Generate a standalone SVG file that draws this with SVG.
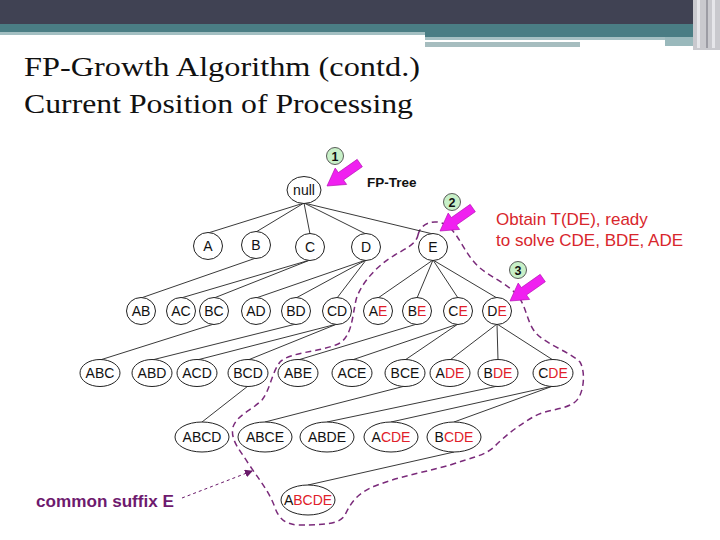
<svg xmlns="http://www.w3.org/2000/svg" width="720" height="540" viewBox="0 0 720 540">
<style>
.n ellipse{fill:#fff;stroke:#222;stroke-width:1}
.n text{font-family:"Liberation Sans",Arial,sans-serif;font-size:14px;fill:#111;text-anchor:middle}
.r{fill:#e0202a}
.e line{stroke:#222;stroke-width:0.9}
.t{font-family:"Liberation Serif","Times New Roman",serif;font-size:28px;fill:#111}
.ar{fill:#f020f0;stroke:#b010b0;stroke-width:0.6}
.bd circle{fill:#c8f0c8;stroke:#333;stroke-width:0.8}
.bd text{font-family:"Liberation Sans",Arial,sans-serif;font-size:12.5px;font-weight:bold;fill:#111;text-anchor:middle}
</style>
<defs>
<polygon id="arr" points="0,0 -17,-10 -17,-4.5 -40,-4.5 -40,4.5 -17,4.5 -17,10"/>
<marker id="pm" markerWidth="8" markerHeight="8" refX="7" refY="4" orient="auto" markerUnits="userSpaceOnUse"><path d="M0,0 L8,4 L0,8 z" fill="#6a1a6a"/></marker>
</defs>
<rect width="720" height="540" fill="#fff"/>
<g id="header">
<rect x="0" y="0" width="720" height="24" fill="#404253"/>
<rect x="0" y="24" width="720" height="8" fill="#4a7d84"/>
<rect x="0" y="32" width="425" height="3" fill="#a3bfc2"/>
<rect x="425" y="32" width="295" height="5" fill="#4a7d84"/>
<rect x="425" y="37" width="240" height="3" fill="#a6c0c3"/>
<rect x="425" y="42" width="155" height="5" fill="#a6bdbf"/>
<rect x="665" y="37" width="30" height="9" fill="#9ab9bc"/>
<rect x="693" y="0" width="27" height="50" fill="#c9c9ce"/>
<rect x="697" y="0" width="3" height="48" fill="#e6e6ea"/>
<rect x="706" y="0" width="2" height="48" fill="#9c9ca4"/>
<rect x="712" y="0" width="3" height="48" fill="#e6e6ea"/>
</g>
<g id="title">
<text class="t" x="24" y="76" textLength="396" lengthAdjust="spacingAndGlyphs">FP-Growth Algorithm (contd.)</text>
<text class="t" x="24" y="113" textLength="389" lengthAdjust="spacingAndGlyphs">Current Position of Processing</text>
</g>
<path id="boundary" d="M418,235 C421,222 436,218 448,226 C460,236 465,255 480,268 C492,278 508,284 518,296 C526,306 527,322 535,332 C545,344 570,352 580,362 C586,372 584,395 575,402 C565,410 548,409 535,416 C520,424 505,436 495,446 C485,456 470,458 450,465 C430,471 400,476 375,486 C355,494 350,505 345,515 C340,524 325,525 300,525 C285,525 278,518 274,505 C268,490 258,478 248,463 C240,450 230,440 233,427 C237,415 252,410 262,400 C270,390 272,372 280,362 C290,352 320,352 338,344 C352,337 352,318 356,300 C360,285 375,268 390,258 C404,249 416,245 418,235 Z" fill="none" stroke="#7a2a7a" stroke-width="1.5" stroke-dasharray="6,4"/>
<g id="connectors" class="e">
<line x1="304" y1="203" x2="208" y2="233"/>
<line x1="304" y1="203" x2="256" y2="232"/>
<line x1="304" y1="203" x2="310" y2="234"/>
<line x1="304" y1="203" x2="366" y2="234"/>
<line x1="304" y1="203" x2="433" y2="234"/>
<line x1="256" y1="258" x2="141" y2="298"/>
<line x1="310" y1="260" x2="181" y2="298"/>
<line x1="310" y1="260" x2="214" y2="298"/>
<line x1="366" y1="260" x2="256" y2="298"/>
<line x1="366" y1="260" x2="296" y2="298"/>
<line x1="366" y1="260" x2="337" y2="298"/>
<line x1="433" y1="260" x2="378" y2="298"/>
<line x1="433" y1="260" x2="417" y2="298"/>
<line x1="433" y1="260" x2="458" y2="298"/>
<line x1="433" y1="260" x2="497" y2="298"/>
<line x1="214" y1="324" x2="100" y2="360"/>
<line x1="296" y1="324" x2="152" y2="360"/>
<line x1="337" y1="324" x2="197" y2="360"/>
<line x1="337" y1="324" x2="248" y2="360"/>
<line x1="417" y1="324" x2="298" y2="360"/>
<line x1="458" y1="324" x2="352" y2="360"/>
<line x1="458" y1="324" x2="405" y2="360"/>
<line x1="497" y1="324" x2="450" y2="360"/>
<line x1="497" y1="324" x2="498" y2="360"/>
<line x1="497" y1="324" x2="553" y2="360"/>
<line x1="248" y1="386" x2="202" y2="422"/>
<line x1="405" y1="386" x2="265" y2="422"/>
<line x1="498" y1="386" x2="327" y2="422"/>
<line x1="553" y1="386" x2="391" y2="422"/>
<line x1="553" y1="386" x2="454" y2="422"/>
<line x1="454" y1="452" x2="308" y2="485"/>
</g>
<g id="n-null" class="n"><ellipse cx="304" cy="190" rx="17" ry="13.5"/><text x="304" y="195">null</text></g>
<g id="n-A" class="n"><ellipse cx="208" cy="246" rx="14.5" ry="13.5"/><text x="208" y="251">A</text></g>
<g id="n-B" class="n"><ellipse cx="256" cy="245" rx="14.5" ry="13.5"/><text x="256" y="250">B</text></g>
<g id="n-C" class="n"><ellipse cx="310" cy="247" rx="14.5" ry="13.5"/><text x="310" y="252">C</text></g>
<g id="n-D" class="n"><ellipse cx="366" cy="247" rx="14.5" ry="13.5"/><text x="366" y="252">D</text></g>
<g id="n-E" class="n"><ellipse cx="433" cy="247" rx="14.5" ry="13.5"/><text x="433" y="252">E</text></g>
<g id="n-AB" class="n"><ellipse cx="141" cy="311" rx="14.5" ry="13.5"/><text x="141" y="316">AB</text></g>
<g id="n-AC" class="n"><ellipse cx="181" cy="311" rx="14.5" ry="13.5"/><text x="181" y="316">AC</text></g>
<g id="n-BC" class="n"><ellipse cx="214" cy="311" rx="14.5" ry="13.5"/><text x="214" y="316">BC</text></g>
<g id="n-AD" class="n"><ellipse cx="256" cy="311" rx="14.5" ry="13.5"/><text x="256" y="316">AD</text></g>
<g id="n-BD" class="n"><ellipse cx="296" cy="311" rx="14.5" ry="13.5"/><text x="296" y="316">BD</text></g>
<g id="n-CD" class="n"><ellipse cx="337" cy="311" rx="14.5" ry="13.5"/><text x="337" y="316">CD</text></g>
<g id="n-AE" class="n"><ellipse cx="378" cy="311" rx="14.5" ry="13.5"/><text x="378" y="316">A<tspan class="r">E</tspan></text></g>
<g id="n-BE" class="n"><ellipse cx="417" cy="311" rx="14.5" ry="13.5"/><text x="417" y="316">B<tspan class="r">E</tspan></text></g>
<g id="n-CE" class="n"><ellipse cx="458" cy="311" rx="14.5" ry="13.5"/><text x="458" y="316">C<tspan class="r">E</tspan></text></g>
<g id="n-DE" class="n"><ellipse cx="497" cy="311" rx="14.5" ry="13.5"/><text x="497" y="316">D<tspan class="r">E</tspan></text></g>
<g id="n-ABC" class="n"><ellipse cx="100" cy="373" rx="20" ry="13.5"/><text x="100" y="378">ABC</text></g>
<g id="n-ABD" class="n"><ellipse cx="152" cy="373" rx="20" ry="13.5"/><text x="152" y="378">ABD</text></g>
<g id="n-ACD" class="n"><ellipse cx="197" cy="373" rx="20" ry="13.5"/><text x="197" y="378">ACD</text></g>
<g id="n-BCD" class="n"><ellipse cx="248" cy="373" rx="20" ry="13.5"/><text x="248" y="378">BCD</text></g>
<g id="n-ABE" class="n"><ellipse cx="298" cy="373" rx="20" ry="13.5"/><text x="298" y="378">ABE</text></g>
<g id="n-ACE" class="n"><ellipse cx="352" cy="373" rx="20" ry="13.5"/><text x="352" y="378">ACE</text></g>
<g id="n-BCE" class="n"><ellipse cx="405" cy="373" rx="20" ry="13.5"/><text x="405" y="378">BCE</text></g>
<g id="n-ADE" class="n"><ellipse cx="450" cy="373" rx="20" ry="13.5"/><text x="450" y="378">A<tspan class="r">DE</tspan></text></g>
<g id="n-BDE" class="n"><ellipse cx="498" cy="373" rx="20" ry="13.5"/><text x="498" y="378">B<tspan class="r">DE</tspan></text></g>
<g id="n-CDE" class="n"><ellipse cx="553" cy="373" rx="20" ry="13.5"/><text x="553" y="378">C<tspan class="r">DE</tspan></text></g>
<g id="n-ABCD" class="n"><ellipse cx="202" cy="437" rx="27" ry="15"/><text x="202" y="442">ABCD</text></g>
<g id="n-ABCE" class="n"><ellipse cx="265" cy="437" rx="27" ry="15"/><text x="265" y="442">ABCE</text></g>
<g id="n-ABDE" class="n"><ellipse cx="327" cy="437" rx="27" ry="15"/><text x="327" y="442">ABDE</text></g>
<g id="n-ACDE" class="n"><ellipse cx="391" cy="437" rx="27" ry="15"/><text x="391" y="442">A<tspan class="r">CDE</tspan></text></g>
<g id="n-BCDE" class="n"><ellipse cx="454" cy="437" rx="27" ry="15"/><text x="454" y="442">B<tspan class="r">CDE</tspan></text></g>
<g id="n-ABCDE" class="n"><ellipse cx="308" cy="500" rx="27" ry="15"/><text x="308" y="505">A<tspan class="r">BCDE</tspan></text></g>
<g id="label-fptree"><text x="367" y="187" font-family="Liberation Sans,Arial,sans-serif" font-size="13.5" font-weight="bold" fill="#111">FP-Tree</text></g>
<g id="note" font-family="Liberation Sans,Arial,sans-serif" font-size="17" fill="#d8262c">
<text x="496" y="225">Obtain T(DE), ready</text>
<text x="496" y="246">to solve CDE, BDE, ADE</text>
</g>
<g id="pointer1"><use href="#arr" class="ar" transform="translate(327,186) rotate(145)"/><g class="bd"><circle cx="335" cy="156" r="8.5"/><text x="335" y="160.5">1</text></g></g>
<g id="pointer2"><use href="#arr" class="ar" transform="translate(440,231) rotate(145)"/><g class="bd"><circle cx="452" cy="202" r="8.5"/><text x="452" y="206.5">2</text></g></g>
<g id="pointer3"><use href="#arr" class="ar" transform="translate(510,301) rotate(145)"/><g class="bd"><circle cx="518" cy="270" r="8.5"/><text x="518" y="274.5">3</text></g></g>
<g id="suffix-label">
<text x="36" y="507" font-family="Liberation Sans,Arial,sans-serif" font-size="17" font-weight="bold" fill="#6e1a6e" textLength="138" lengthAdjust="spacingAndGlyphs">common suffix E</text>
<line x1="182" y1="498" x2="252" y2="471" stroke="#6a1a6a" stroke-width="1" stroke-dasharray="3,3" marker-end="url(#pm)"/>
</g>
</svg>
